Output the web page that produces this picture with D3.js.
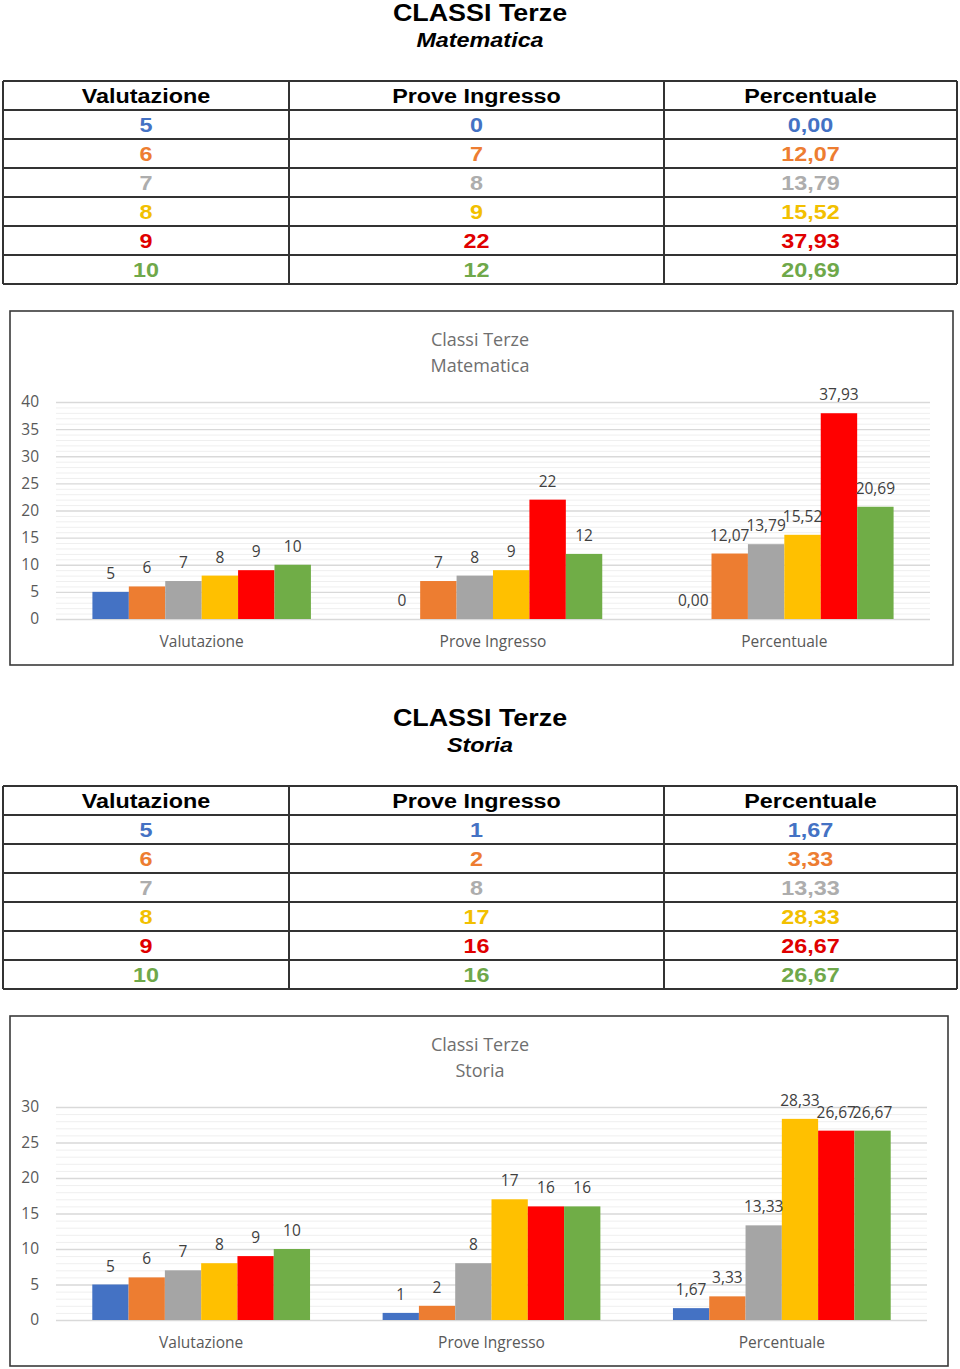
<!DOCTYPE html>
<html><head><meta charset="utf-8">
<script src="https://cdn.jsdelivr.net/npm/d3@7"></script>
<style>body{margin:0;background:#fff}svg{display:block}</style>
</head><body>
<svg id="c" width="960" height="1369"></svg>
<script>
const categories = ["Valutazione", "Prove Ingresso", "Percentuale"];
const grades = ["5", "6", "7", "8", "9", "10"];
const valutazione = [5, 6, 7, 8, 9, 10];
const mathProve = [0, 7, 8, 9, 22, 12];
const mathPerc = [0.00, 12.07, 13.79, 15.52, 37.93, 20.69];
const storiaProve = [1, 2, 8, 17, 16, 16];
const storiaPerc = [1.67, 3.33, 13.33, 28.33, 26.67, 26.67];
const mathTicks = [0, 5, 10, 15, 20, 25, 30, 35, 40];
const storiaTicks = [0, 5, 10, 15, 20, 25, 30];
const seriesColors = ["#4472C4", "#ED7D31", "#A5A5A5", "#FFC000", "#FF0000", "#70AD47"];
const tableColors = ["#4472C4", "#ED7D31", "#ADADAD", "#F2C000", "#E00000", "#6FA84A"];

const svg = d3.select("#c");
const fmtInt = d => String(d);
const fmtPct = d => d.toFixed(2).replace(".", ",");

function titleBlock(y, main, sub) {
  svg.append("text").attr("transform", `translate(480,${y + 1}) scale(1.12,1)`)
    .attr("text-anchor", "middle").style("font", "bold 24px 'Liberation Sans', Arial, sans-serif")
    .attr("fill", "#000").text(main);
  svg.append("text").attr("transform", `translate(480,${y + 27}) scale(1.14,1)`)
    .attr("text-anchor", "middle").style("font", "italic bold 20.5px 'Liberation Sans', Arial, sans-serif")
    .attr("fill", "#000").text(sub);
}

function table(top, prove, perc) {
  const colX = [3, 289, 664, 957];
  const rowH = 29;
  const g = svg.append("g");
  const headers = ["Valutazione", "Prove Ingresso", "Percentuale"];
  const rows = grades.map((gr, i) => [gr, fmtInt(prove[i]), fmtPct(perc[i])]);
  const nRows = rows.length + 1;
  for (let r = 0; r <= nRows; r++) {
    g.append("line").attr("x1", colX[0]).attr("x2", colX[3])
      .attr("y1", top + r * rowH).attr("y2", top + r * rowH)
      .attr("stroke", "#333").attr("stroke-width", 2);
  }
  colX.forEach(x => g.append("line").attr("x1", x).attr("x2", x)
    .attr("y1", top).attr("y2", top + nRows * rowH).attr("stroke", "#333").attr("stroke-width", 2));
  const cx = [0, 1, 2].map(i => (colX[i] + colX[i + 1]) / 2);
  headers.forEach((h, i) => {
    g.append("text").attr("transform", `translate(${cx[i]},${top + 22}) scale(1.14,1)`)
      .attr("text-anchor", "middle").style("font", "bold 20.5px 'Liberation Sans', Arial, sans-serif")
      .attr("fill", "#000").text(h);
  });
  rows.forEach((row, r) => {
    row.forEach((v, i) => {
      g.append("text").attr("transform", `translate(${cx[i]},${top + (r + 1) * rowH + 22}) scale(1.14,1)`)
        .attr("text-anchor", "middle").style("font", "bold 20.5px 'Liberation Sans', Arial, sans-serif")
        .attr("fill", tableColors[r]).text(v);
    });
  });
}

function chart(box, title1, title2, ticks, seriesByCat, fmts, layout) {
  const g = svg.append("g");
  g.append("rect").attr("x", box.x).attr("y", box.y).attr("width", box.w).attr("height", box.h)
    .attr("fill", "#fff").attr("stroke", "#3a3a3a").attr("stroke-width", 1.6);
  g.append("text").attr("x", 480).attr("y", layout.t1).attr("text-anchor", "middle")
    .style("font", "18px 'Open Sans', sans-serif").attr("fill", "#6f6f6f").text(title1);
  g.append("text").attr("x", 480).attr("y", layout.t2).attr("text-anchor", "middle")
    .style("font", "18px 'Open Sans', sans-serif").attr("fill", "#6f6f6f").text(title2);

  const maxV = d3.max(ticks);
  const y = d3.scaleLinear().domain([0, maxV]).range([layout.y0, layout.yTop]);
  const x0 = d3.scaleBand().domain(categories).range([layout.xL, layout.xR]).paddingInner(0).paddingOuter(0);
  const x1 = d3.scaleBand().domain(grades).range([0, x0.bandwidth()]).paddingInner(0).paddingOuter(1);

  const minor = d3.range(0, maxV + 1).filter(v => v % 5 !== 0);
  g.append("g").selectAll("line").data(minor).join("line")
    .attr("x1", layout.xL).attr("x2", layout.xR)
    .attr("y1", d => y(d) + 0.5).attr("y2", d => y(d) + 0.5)
    .attr("stroke", "#efefef").attr("stroke-width", 1);
  const axis = d3.axisLeft(y).tickValues(ticks).tickSize(-(layout.xR - layout.xL)).tickPadding(17).tickFormat(d3.format("d"));
  const ax = g.append("g").attr("transform", `translate(${layout.xL},0)`).call(axis);
  ax.select(".domain").remove();
  ax.selectAll(".tick line").attr("stroke", "#d9d9d9").attr("stroke-width", 1.3);
  ax.selectAll(".tick text").style("font", "15.5px 'Open Sans', sans-serif").attr("fill", "#595959");

  categories.forEach((cat, ci) => {
    const vals = seriesByCat[ci];
    const gg = g.append("g").attr("transform", `translate(${x0(cat)},0)`);
    gg.selectAll("rect").data(vals).join("rect")
      .attr("x", (d, i) => x1(grades[i]))
      .attr("width", x1.bandwidth())
      .attr("y", d => y(d))
      .attr("height", d => y(0) - y(d))
      .attr("fill", (d, i) => seriesColors[i]);
    gg.selectAll("text.lbl").data(vals).join("text").attr("class", "lbl")
      .attr("x", (d, i) => x1(grades[i]) + x1.bandwidth() / 2)
      .attr("y", d => y(d) - 13)
      .attr("text-anchor", "middle")
      .style("font", "15.5px 'Open Sans', sans-serif").attr("fill", "#404040")
      .text(d => fmts[ci](d));
    g.append("text").attr("x", x0(cat) + x0.bandwidth() / 2).attr("y", layout.y0 + 28)
      .attr("text-anchor", "middle").style("font", "15.5px 'Open Sans', sans-serif")
      .attr("fill", "#595959").text(cat);
  });
}

titleBlock(20, "CLASSI Terze", "Matematica");
table(81, mathProve, mathPerc);
chart({x: 10, y: 311, w: 943, h: 354}, "Classi Terze", "Matematica", mathTicks,
  [valutazione, mathProve, mathPerc], [fmtInt, fmtInt, fmtPct],
  {t1: 346, t2: 372, y0: 619, yTop: 402, xL: 56, xR: 930});

titleBlock(725, "CLASSI Terze", "Storia");
table(786, storiaProve, storiaPerc);
chart({x: 10, y: 1016, w: 938, h: 350}, "Classi Terze", "Storia", storiaTicks,
  [valutazione, storiaProve, storiaPerc], [fmtInt, fmtInt, fmtPct],
  {t1: 1051, t2: 1077, y0: 1320, yTop: 1107, xL: 56, xR: 927});
</script>
</body></html>
